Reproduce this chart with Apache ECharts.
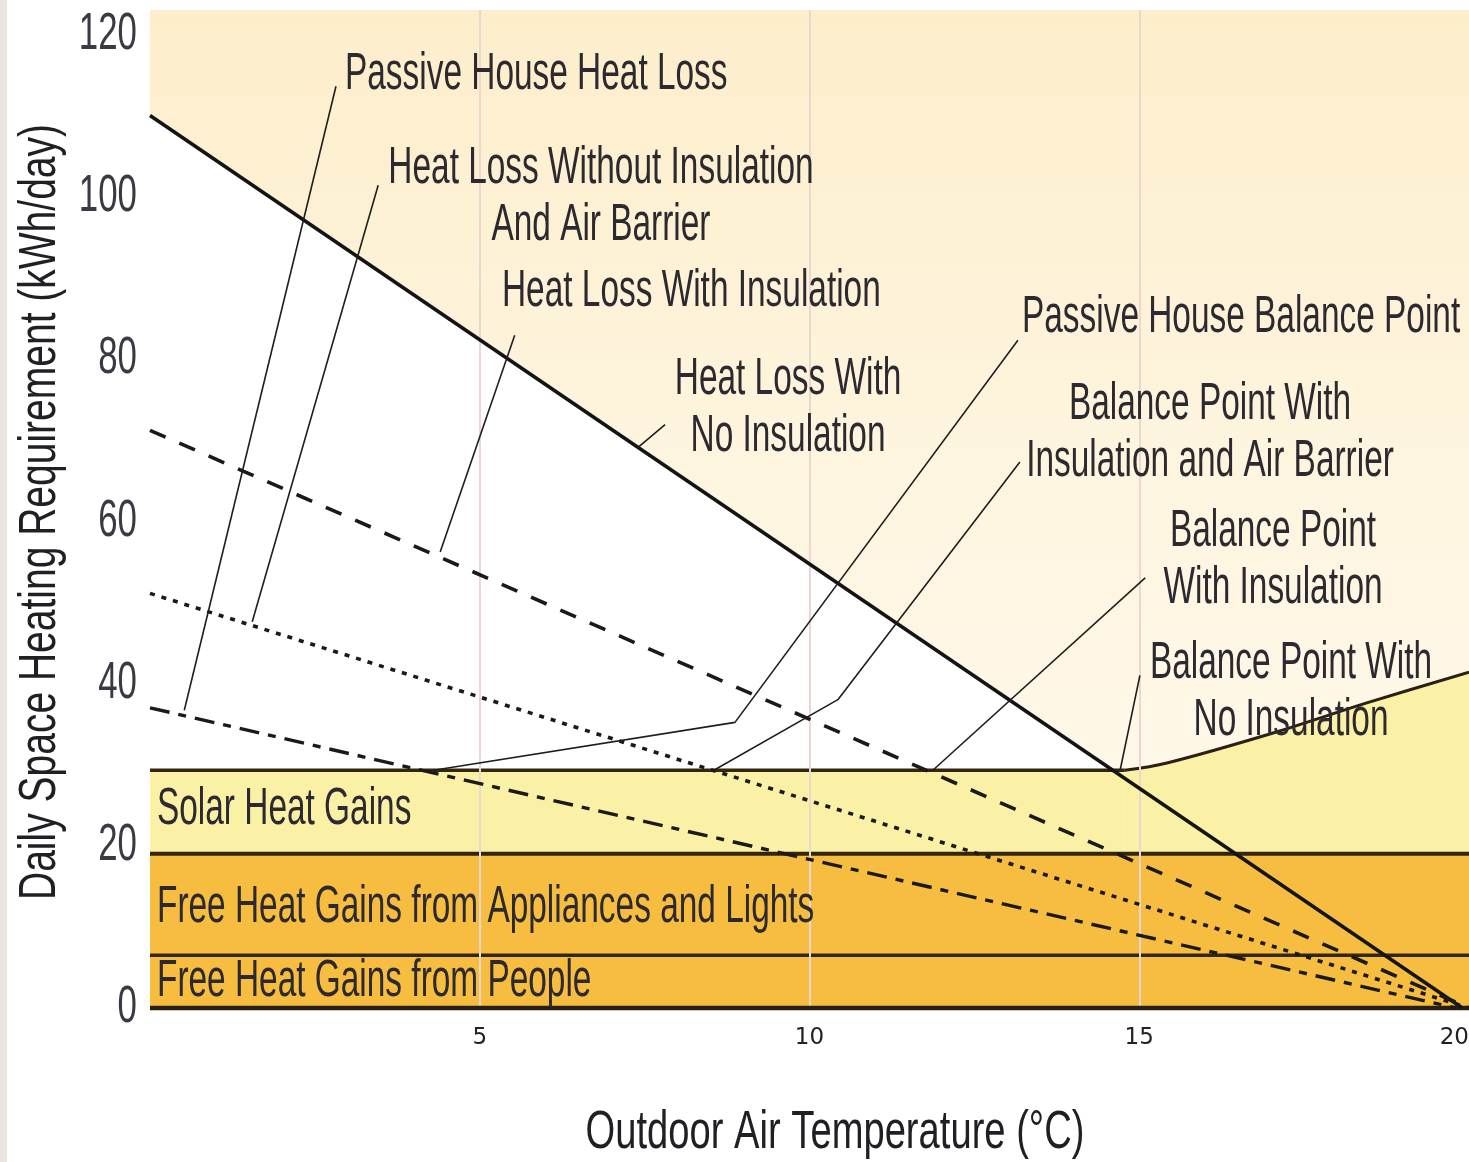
<!DOCTYPE html>
<html>
<head>
<meta charset="utf-8">
<script src="https://cdn.jsdelivr.net/npm/echarts@6/dist/echarts.min.js"></script>
<style>
html,body{margin:0;padding:0;background:#ffffff;}
#chart{width:1469px;height:1162px;}
</style>
</head>
<body>
<div id="chart"></div>
<script>
// ---------- data (x: outdoor temperature °C, y: kWh/day) ----------
const heatLossNoInsulation      = [[0, 110], [19.9, 0]];      // solid
const heatLossWithInsulation    = [[0, 71.2], [20, 0]];       // dashed
const heatLossWithoutInsAirBar  = [[0, 51.1], [20, 0]];       // dotted
const passiveHouseHeatLoss      = [[0, 37.0], [19.8, 0]];     // dash-dot
const solarGainFlat             = [[0, 29.3], [14.78, 29.3]];
const solarGainCurve            = [[14.78, 29.3], [15.42, 30.2], [17.03, 33.9], [18.45, 37.6], [20, 41.4]];
const applianceGainBand         = [[0, 19], [20, 19]];
const peopleGainBand            = [[0, 6.5], [20, 6.5]];
const baseLine                  = [[0, 0], [20, 0]];

// y tick labels
const yTickValues = [0, 20, 40, 60, 80, 100, 120];

// leader lines from labels to curves / balance points
const leaderPassiveHeatLoss     = [[2.82, 113.6], [0.52, 36.7]];
const leaderWithoutInsAirBar    = [[3.46, 101.4], [1.55, 47.6]];
const leaderWithInsulation      = [[5.53, 82.9], [4.40, 56.2]];
const leaderNoInsulation        = [[7.81, 71.9], [7.40, 69.1]];
const leaderPassiveBalance      = [[13.16, 82.3], [8.87, 35.2], [4.30, 29.3]];
const leaderBalanceInsAirBar    = [[13.19, 67.3], [10.43, 38.0], [8.55, 29.3]];
const leaderBalanceInsulation   = [[15.09, 53.0], [11.87, 29.3]];
const leaderBalanceNoInsulation = [[15.01, 41.0], [14.71, 29.3]];

// annotation texts and their anchor (data coords)
const annoText = [
  'Passive House Heat Loss',
  'Heat Loss Without Insulation\nAnd Air Barrier',
  'Heat Loss With Insulation',
  'Heat Loss With\nNo Insulation',
  'Passive House Balance Point',
  'Balance Point With\nInsulation and Air Barrier',
  'Balance Point\nWith Insulation',
  'Balance Point With\nNo Insulation',
  'Solar Heat Gains',
  'Free Heat Gains from Appliances and Lights',
  'Free Heat Gains from People'
];
const annoX = [2.957, 6.838, 5.337, 9.674, 13.222, 16.073, 17.028, 17.301, 0.106, 0.106, 0.106];
const annoY = [114.99, 99.89, 88.24, 73.88, 85.04, 70.80, 55.21, 38.88, 24.40, 12.32, 3.20];
const annoAlign = ['left', 'center', 'left', 'center', 'left', 'center', 'center', 'center', 'left', 'left', 'left'];

const xTitle = 'Outdoor Air Temperature (°C)';
const yTitle = 'Daily Space Heating Requirement (kWh/day)';

// ---------- chart ----------
const SANS = '"Liberation Sans", Arial, sans-serif';
const INK = '#2c2a30';
const BAND_LINE = '#33260f';

const chart = echarts.init(document.getElementById('chart'), null, {renderer: 'canvas'});

function lineSeries(data, style, z, extra) {
  return Object.assign({
    type: 'line', data: data, symbol: 'none', silent: true, z: z,
    lineStyle: style, animation: false
  }, extra || {});
}

const leaderStyle = {color: '#1e1e1e', width: 1.6};

chart.setOption({
  animation: false,
  backgroundColor: '#ffffff',
  grid: {
    left: 150, right: 0, top: 10, bottom: 154, show: true, borderWidth: 0,
    outerBoundsMode: 'none', containLabel: false,
    backgroundColor: new echarts.graphic.LinearGradient(0, 0, 0, 1, [
      {offset: 0, color: '#fdeecb'},
      {offset: 0.45, color: '#fef5df'},
      {offset: 1, color: '#fffaf0'}
    ])
  },
  graphic: [
    {type: 'rect', left: 0, top: 0, shape: {width: 7, height: 1162}, style: {fill: '#e9e6df'}, z: 0},
    {type: 'text', x: 835, y: 1133, scaleX: 0.72, z: 10,
      style: {text: xTitle, fontFamily: SANS, fontSize: 53, fill: '#1f1f24', align: 'center', verticalAlign: 'middle'}},
    {type: 'text', x: 41, y: 512, rotation: Math.PI / 2, scaleX: 0.75, z: 10,
      style: {text: yTitle, fontFamily: SANS, fontSize: 52, fill: '#1f1f24', align: 'center', verticalAlign: 'middle'}}
  ],
  xAxis: {
    type: 'value', min: 0, max: 20, interval: 5, z: 3,
    axisLine: {show: false}, axisTick: {show: false},
    axisLabel: {show: true, showMinLabel: false, alignMaxLabel: 'right', margin: 19,
      fontFamily: '"DejaVu Sans", sans-serif', fontSize: 23, color: '#222222'},
    splitLine: {show: true, showMinLine: false, showMaxLine: false, lineStyle: {color: '#ecd6cf', width: 2}}
  },
  yAxis: {
    type: 'value', min: 0, max: 123, interval: 20,
    axisLine: {show: false}, axisTick: {show: false}, splitLine: {show: false},
    axisLabel: {show: false}
  },
  series: [
    // white region below the "no insulation" heat-loss line
    lineSeries(heatLossNoInsulation, {width: 0, opacity: 0}, 1,
      {areaStyle: {color: '#ffffff', opacity: 1}}),
    // solar gains (flat part + rising curve)
    lineSeries(solarGainFlat, {color: BAND_LINE, width: 3.5}, 2,
      {areaStyle: {color: '#fbf1a6', opacity: 1}, clip: false}),
    lineSeries(solarGainCurve, {color: '#2a2014', width: 3}, 2,
      {areaStyle: {color: '#fbf1a6', opacity: 1}, smooth: 0.35}),
    // appliances + people
    lineSeries(applianceGainBand, {color: BAND_LINE, width: 4}, 2,
      {areaStyle: {color: '#f7bd40', opacity: 1}}),
    lineSeries(peopleGainBand, {color: BAND_LINE, width: 3.5}, 2),
    lineSeries(baseLine, {color: '#2b200c', width: 4.5}, 4, {clip: false}),
    // heat-loss lines
    lineSeries(heatLossNoInsulation, {color: '#141414', width: 3.6}, 5),
    lineSeries(heatLossWithInsulation, {color: '#1a1a1a', width: 3.6, type: [17, 15]}, 5),
    lineSeries(heatLossWithoutInsAirBar, {color: '#1a1a1a', width: 3.6, type: [5, 7]}, 5),
    lineSeries(passiveHouseHeatLoss, {color: '#1a1a1a', width: 3.4, type: [20, 9, 8, 9]}, 5),
    // leaders
    lineSeries(leaderPassiveHeatLoss, leaderStyle, 5),
    lineSeries(leaderWithoutInsAirBar, leaderStyle, 5),
    lineSeries(leaderWithInsulation, leaderStyle, 5),
    lineSeries(leaderNoInsulation, leaderStyle, 5),
    lineSeries(leaderPassiveBalance, leaderStyle, 5),
    lineSeries(leaderBalanceInsAirBar, leaderStyle, 5),
    lineSeries(leaderBalanceInsulation, leaderStyle, 5),
    lineSeries(leaderBalanceNoInsulation, leaderStyle, 5),
    // annotations
    {
      type: 'custom', z: 6, silent: true, clip: false, animation: false,
      data: annoX.map((x, i) => [x, annoY[i]]),
      renderItem: function (params, api) {
        const i = params.dataIndex;
        const p = api.coord([api.value(0), api.value(1)]);
        return {
          type: 'text', x: p[0], y: p[1], scaleX: 0.655,
          style: {
            text: annoText[i], fill: INK, fontFamily: SANS, fontSize: 51,
            align: annoAlign[i], verticalAlign: 'middle', lineHeight: 57
          }
        };
      }
    },
    // y-axis tick labels (positioned by the y scale)
    {
      type: 'custom', z: 6, silent: true, clip: false, animation: false,
      data: yTickValues.map(v => [0, v]),
      renderItem: function (params, api) {
        const p = api.coord([0, api.value(1)]);
        return {
          type: 'text', x: p[0] - 13, y: p[1], scaleX: 0.67,
          style: {
            text: String(api.value(1)), fill: '#3a3a45', fontFamily: SANS, fontSize: 52,
            align: 'right', verticalAlign: 'middle'
          }
        };
      }
    }
  ]
});
</script>
</body>
</html>
